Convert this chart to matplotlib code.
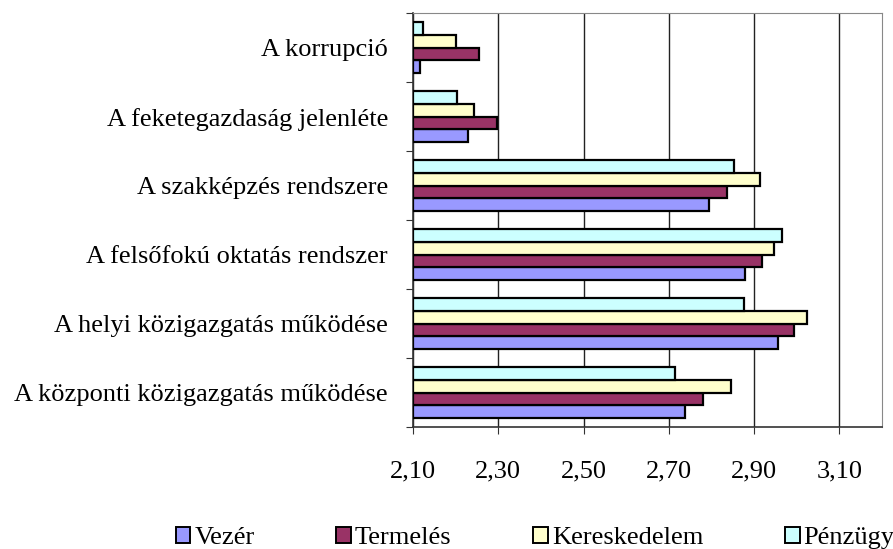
import numpy as np
import matplotlib.pyplot as plt
from matplotlib.patches import Patch

# adatok (alulról felfelé)
categories = ['A központi közigazgatás működése',
              'A helyi közigazgatás működése',
              'A felsőfokú oktatás rendszer',
              'A szakképzés rendszere',
              'A feketegazdaság jelenléte',
              'A korrupció']
series = ['Vezér', 'Termelés', 'Kereskedelem', 'Pénzügy']
vezer = [2.739, 2.956, 2.878, 2.794, 2.228, 2.116]
termeles = [2.780, 2.994, 2.919, 2.837, 2.297, 2.255]
kereskedelem = [2.846, 3.023, 2.947, 2.913, 2.243, 2.200]
penzugy = [2.714, 2.876, 2.966, 2.853, 2.203, 2.124]
colors = ['#9999FF', '#993366', '#FFFFCC', '#CCFFFF']
xticks = [2.10, 2.30, 2.50, 2.70, 2.90, 3.10]
xlabels = ['2,10', '2,30', '2,50', '2,70', '2,90', '3,10']

plt.rcParams['font.family'] = 'Liberation Serif'
fs = 19

fig = plt.figure(figsize=(8.93, 5.49), dpi=100)
ax = fig.add_axes([0.4625, 0.2222, 0.5252, 0.7541])

base = 2.10
h = 0.185
y = np.arange(len(categories))
data = [vezer, termeles, kereskedelem, penzugy]
for i, vals in enumerate(data):
    vals = np.array(vals)
    ax.barh(y + (i - 1.5) * h, vals - base, left=base, height=h,
            color=colors[i], edgecolor='black', linewidth=1.6, zorder=3)

ax.set_xlim(2.10, 3.20)
ax.set_ylim(-0.5, len(categories) - 0.5)
ax.set_xticks(xticks)
ax.set_xticklabels(xlabels, fontsize=fs)
ax.tick_params(axis='x', direction='out', length=5, pad=19, color='#333333')
ax.grid(axis='x', color='#222222', linewidth=1, zorder=0)

ax.set_yticks(np.arange(len(categories) + 1) - 0.5)
ax.set_yticklabels([])
ax.set_yticks(y, minor=True)
ax.set_yticklabels(categories, minor=True, fontsize=fs)
ax.tick_params(axis='y', which='major', direction='out', length=5, color='#333333')
ax.tick_params(axis='y', which='minor', length=0, pad=18)

for s in ['top', 'right']:
    ax.spines[s].set_color('#888888')
for s in ['left', 'bottom']:
    ax.spines[s].set_color('#333333')
    ax.spines[s].set_linewidth(1.2)

handles = [Patch(facecolor=c, edgecolor='black', linewidth=1.4) for c in colors]
fig.legend(handles, series, loc='center left', bbox_to_anchor=(0.197, 0.020),
           ncol=4, frameon=False, fontsize=fs, handlelength=0.55,
           handleheight=0.55, handletextpad=0.15, columnspacing=3.1,
           borderpad=0, borderaxespad=0)

plt.savefig('out.png', dpi=100)
